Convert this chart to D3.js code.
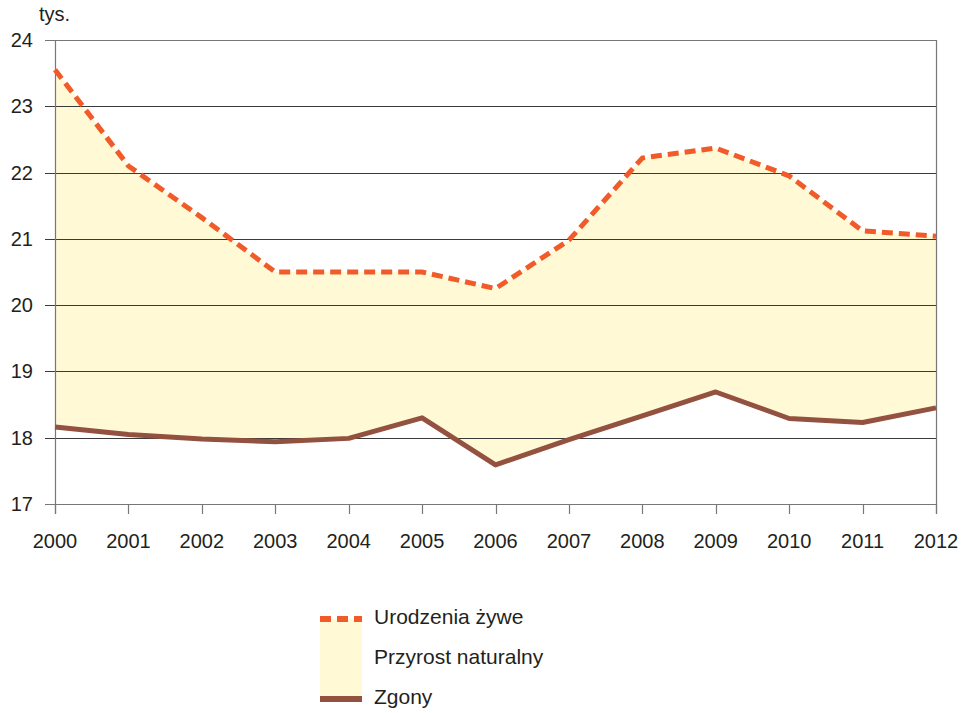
<!DOCTYPE html>
<html>
<head>
<meta charset="utf-8">
<script src="https://cdn.jsdelivr.net/npm/d3@7"></script>
<style>
  body { margin: 0; background: #fff; }
  text { font-family: 'Liberation Sans', Arial, sans-serif; fill: #231f20; }
</style>
</head>
<body>
<main></main>
<script>
// data (thousands)
const years = [2000, 2001, 2002, 2003, 2004, 2005, 2006, 2007, 2008, 2009, 2010, 2011, 2012]
const births = [23.55, 22.1, 21.32, 20.5, 20.5, 20.5, 20.25, 20.98, 22.22, 22.37, 21.95, 21.12, 21.04]
const deaths = [18.16, 18.05, 17.98, 17.94, 17.99, 18.3, 17.59, 17.97, 18.33, 18.69, 18.29, 18.23, 18.45]
const yTicks = [17, 18, 19, 20, 21, 22, 23, 24]
const legendLabels = ['Urodzenia żywe', 'Przyrost naturalny', 'Zgony']

const colors = { births: '#f15a29', fill: '#fff9d6', deaths: '#935140', grid: '#3a3a3a', axis: '#777' }

const svg = d3.select('main')
  .append('svg')
  .attr('width', 964)
  .attr('height', 713)

const x = d3.scaleLinear().domain([2000, 2012]).range([55, 936])
const y = d3.scaleLinear().domain([17, 24]).range([504, 40])

const rows = years.map((yr, i) => ({ yr, b: births[i], d: deaths[i] }))

// area between the two series
svg.append('path')
  .datum(rows)
  .attr('d', d3.area().x(d => x(d.yr)).y0(d => y(d.d)).y1(d => y(d.b)))
  .style('fill', colors.fill)

// horizontal grid lines
svg.append('g')
  .selectAll('line')
  .data(yTicks)
  .enter()
  .append('line')
  .attr('x1', 45)
  .attr('x2', 936)
  .attr('y1', d => Math.round(y(d)) + 0.5)
  .attr('y2', d => Math.round(y(d)) + 0.5)
  .style('stroke', d => (d === 24 || d === 17) ? colors.axis : colors.grid)
  .style('stroke-width', '1px')

// y axis labels
svg.append('g')
  .selectAll('text')
  .data(yTicks)
  .enter()
  .append('text')
  .attr('x', 33)
  .attr('y', d => y(d))
  .attr('text-anchor', 'end')
  .attr('dominant-baseline', 'central')
  .style('font-size', '20px')
  .text(d => d)

svg.append('text')
  .attr('x', 39)
  .attr('y', 21)
  .style('font-size', '20px')
  .text('tys.')

// vertical frame lines
svg.append('line')
  .attr('x1', 55.5).attr('x2', 55.5).attr('y1', 40).attr('y2', 514)
  .style('stroke', colors.axis).style('stroke-width', '1.2px')
svg.append('line')
  .attr('x1', 936.5).attr('x2', 936.5).attr('y1', 40).attr('y2', 514)
  .style('stroke', colors.axis).style('stroke-width', '1.2px')

// x ticks and labels
svg.append('g')
  .selectAll('line')
  .data(years)
  .enter()
  .append('line')
  .attr('x1', d => Math.round(x(d)) + 0.5)
  .attr('x2', d => Math.round(x(d)) + 0.5)
  .attr('y1', 504)
  .attr('y2', 514)
  .style('stroke', colors.axis)
  .style('stroke-width', '1.2px')

svg.append('g')
  .selectAll('text')
  .data(years)
  .enter()
  .append('text')
  .attr('x', d => x(d))
  .attr('y', 548)
  .attr('text-anchor', 'middle')
  .style('font-size', '20px')
  .text(d => d)

// deaths line
svg.append('path')
  .datum(rows)
  .attr('d', d3.line().x(d => x(d.yr)).y(d => y(d.d)))
  .style('fill', 'none')
  .style('stroke', colors.deaths)
  .style('stroke-width', '5px')
  .style('stroke-linejoin', 'round')

// births dashed line
svg.append('path')
  .datum(rows)
  .attr('d', d3.line().x(d => x(d.yr)).y(d => y(d.b)))
  .style('fill', 'none')
  .style('stroke', colors.births)
  .style('stroke-width', '5px')
  .style('stroke-dasharray', '11,6')

// legend
const lg = svg.append('g').attr('transform', 'translate(320,0)')
lg.append('rect')
  .attr('x', 0).attr('y', 619).attr('width', 42).attr('height', 80)
  .style('fill', colors.fill)
lg.append('line')
  .attr('x1', 0).attr('x2', 42).attr('y1', 619).attr('y2', 619)
  .style('stroke', colors.births).style('stroke-width', '6px').style('stroke-dasharray', '11,6')
lg.append('line')
  .attr('x1', 0).attr('x2', 42).attr('y1', 699).attr('y2', 699)
  .style('stroke', colors.deaths).style('stroke-width', '6px')
lg.selectAll('text.lab')
  .data(legendLabels)
  .enter()
  .append('text')
  .attr('class', 'lab')
  .attr('x', 54)
  .attr('y', (d, i) => 624 + i * 40)
  .style('font-size', '21px')
  .text(d => d)
</script>
</body>
</html>
